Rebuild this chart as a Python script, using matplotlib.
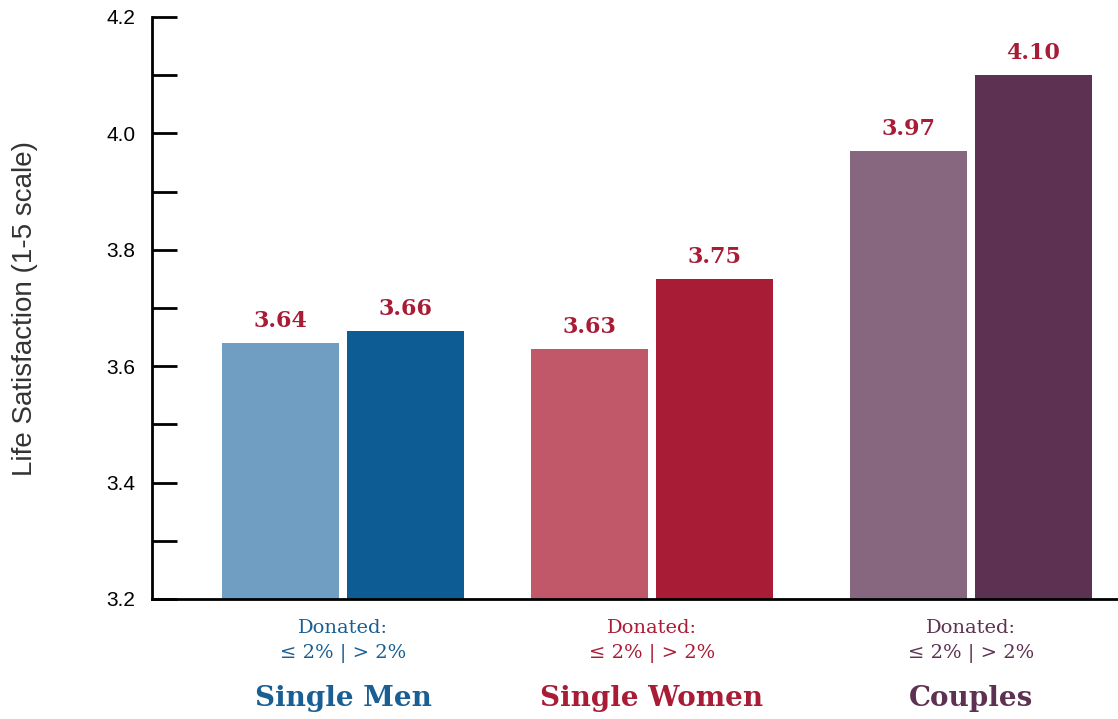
import matplotlib
matplotlib.use("Agg")
import matplotlib.pyplot as plt
from matplotlib import font_manager as fm

groups = ["Single Men", "Single Women", "Couples"]
low_vals = [3.64, 3.63, 3.97]   # Donated <= 2%
high_vals = [3.66, 3.75, 4.10]  # Donated > 2%
yticks = [3.2, 3.4, 3.6, 3.8, 4.0, 4.2]
sub1 = "Donated:"
sub2 = "≤ 2% | > 2%"

low_colors = ["#6f9ec2", "#c05869", "#86677f"]
high_colors = ["#0e5c94", "#a81c36", "#5d3152"]
group_colors = ["#1a5f94", "#a81c36", "#5d3152"]
value_color = "#a81c36"

names = {f.name for f in fm.fontManager.ttflist}
serif = "DejaVu Serif Condensed" if "DejaVu Serif Condensed" in names else "DejaVu Serif"
sans = "Liberation Sans"

fig = plt.figure(figsize=(11.18, 7.19), dpi=100)
ax = fig.add_axes([152/1118, 1 - 599/719, 1 - 152/1118, (599 - 17)/719])

pos = [0.0, 0.984, 2.0]
w = 0.373
off = 0.199
for i in range(3):
    for x, v, c in [(pos[i] - off, low_vals[i], low_colors[i]), (pos[i] + off, high_vals[i], high_colors[i])]:
        ax.bar(x, v - 3.2, bottom=3.2, width=w, color=c, zorder=2)
        ax.annotate(f"{v:.2f}", (x, v), xytext=(0, 8), textcoords="offset points",
                    ha="center", va="bottom", fontsize=16, fontweight="heavy",
                    family=serif, color=value_color)
    tr = ax.get_xaxis_transform()
    ax.annotate(sub1, (pos[i], 0), xycoords=tr, xytext=(0, -21), textcoords="offset points",
                ha="center", va="center", fontsize=14, family=serif, color=group_colors[i])
    ax.annotate(sub2, (pos[i], 0), xycoords=tr, xytext=(0, -39), textcoords="offset points",
                ha="center", va="center", fontsize=14, family=[serif, "DejaVu Sans"], color=group_colors[i])
    ax.annotate(groups[i], (pos[i], 0), xycoords=tr, xytext=(0, -72), textcoords="offset points",
                ha="center", va="center", fontsize=20, fontweight="bold", family=serif,
                color=group_colors[i])

ax.set_xlim(-0.608, 2.468)
ax.set_ylim(3.2, 4.2)
ax.set_yticks(yticks)
ax.set_yticklabels([f"{t:.1f}" for t in yticks], family=sans, fontsize=15)
ax.set_yticks([3.3, 3.5, 3.7, 3.9, 4.1], minor=True)
ax.tick_params(axis="y", which="both", direction="in", length=18, width=2, pad=12, color="black")
ax.set_xticks([])
for s in ["top", "right"]:
    ax.spines[s].set_visible(False)
ax.spines["left"].set_linewidth(2)
ax.spines["bottom"].set_linewidth(2)
ax.set_ylabel("Life Satisfaction (1-5 scale)", family=sans, fontsize=20, color="#333333")
ax.yaxis.set_label_coords(-(152 - 25) / 966, 0.5)
ax.yaxis.label.set_va("center")

fig.savefig("out.png", dpi=100)
